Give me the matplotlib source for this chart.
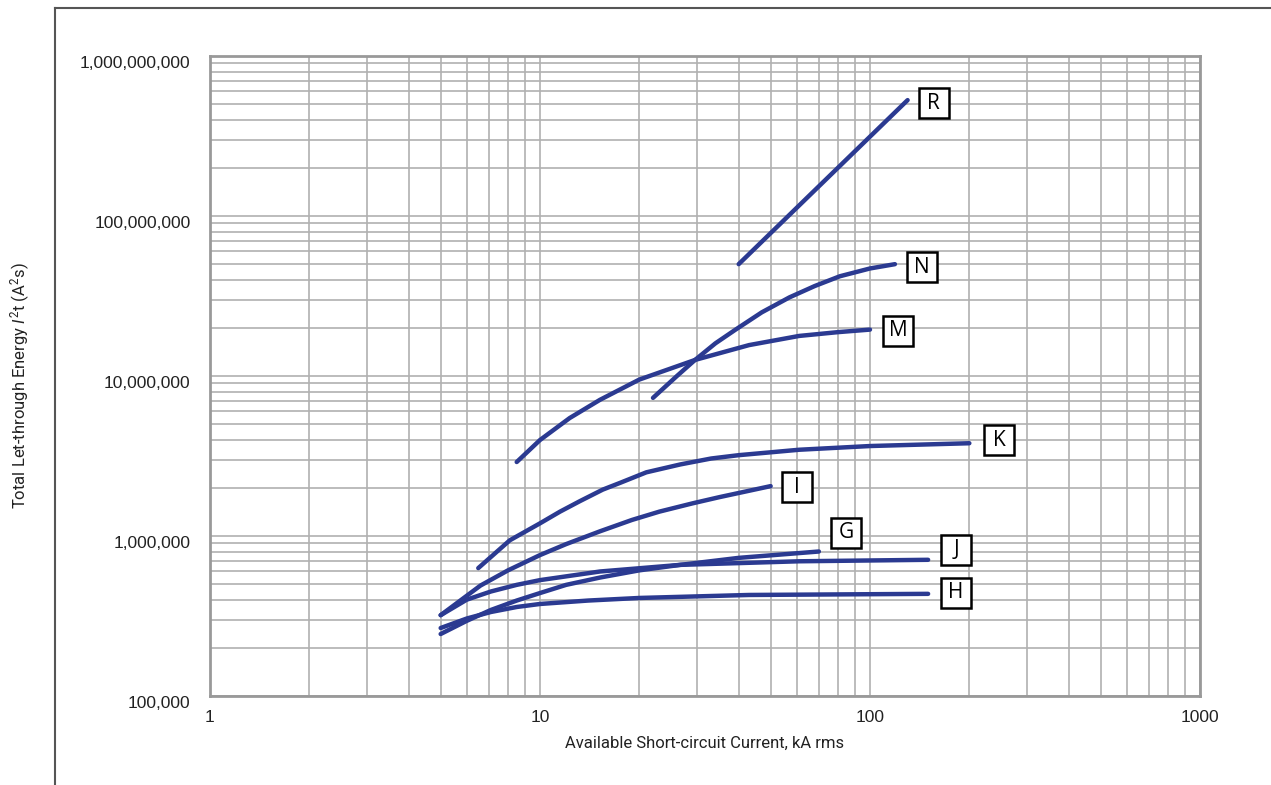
import numpy as np
import matplotlib
matplotlib.use('Agg')
import matplotlib.pyplot as plt
from matplotlib.lines import Line2D
from matplotlib.transforms import offset_copy
from matplotlib.ticker import FixedLocator, LogLocator, NullFormatter, FuncFormatter

# Curvas de energia I2t por tamanho de fusível (kA rms -> A2s)
r_x = [40, 130]
r_y = [5.0e7, 5.3e8]

n_x = [22, 26, 29.5, 34, 39, 47, 57, 68, 81, 100, 119]
n_y = [7.3e6, 1.0e7, 1.26e7, 1.6e7, 1.94e7, 2.5e7, 3.1e7, 3.65e7, 4.2e7, 4.7e7, 5.0e7]

m_x = [8.5, 10, 12.3, 15.2, 20, 29.5, 43, 61, 80, 100]
m_y = [2.9e6, 3.98e6, 5.46e6, 7.1e6, 9.5e6, 1.26e7, 1.56e7, 1.78e7, 1.88e7, 1.95e7]

k_x = [6.5, 8.1, 10, 11.5, 13.2, 15.5, 17.5, 21, 26.6, 33, 40, 61, 100, 200]
k_y = [6.3e5, 9.4e5, 1.2e6, 1.42e6, 1.65e6, 1.95e6, 2.15e6, 2.5e6, 2.8e6, 3.05e6, 3.2e6, 3.46e6, 3.65e6, 3.8e6]

i_x = [5, 6.6, 8, 10, 12, 15.2, 19, 23, 29, 35, 50]
i_y = [3.2e5, 4.9e5, 6.1e5, 7.6e5, 8.9e5, 1.07e6, 1.26e6, 1.42e6, 1.6e6, 1.75e6, 2.05e6]

g_x = [5, 6, 7.1, 8.5, 10, 12, 15.2, 20, 26.6, 40, 70]
g_y = [2.44e5, 2.95e5, 3.45e5, 3.95e5, 4.4e5, 4.95e5, 5.5e5, 6.1e5, 6.6e5, 7.3e5, 8.0e5]

j_x = [5, 6, 7.1, 8.5, 10, 15.2, 26.6, 61, 150]
j_y = [3.2e5, 4.0e5, 4.5e5, 4.95e5, 5.3e5, 6.0e5, 6.6e5, 6.95e5, 7.1e5]

h_x = [5, 6, 7.1, 8.5, 10, 14, 20, 43, 150]
h_y = [2.66e5, 3.05e5, 3.35e5, 3.6e5, 3.76e5, 3.95e5, 4.1e5, 4.28e5, 4.35e5]

curve_names = ['R', 'N', 'M', 'K', 'I', 'G', 'J', 'H']
curve_x = [r_x, n_x, m_x, k_x, i_x, g_x, j_x, h_x]
curve_y = [r_y, n_y, m_y, k_y, i_y, g_y, j_y, h_y]
# deslocamento do rótulo em pixels a partir do fim da curva (y positivo = para cima)
label_offsets = [(26, -3), (27, -3), (28, -1), (30, 3), (26, -1), (27, 19), (28, 10), (28, 1)]

x_ticks = [1, 10, 100, 1000]
y_ticks = [1e5, 1e6, 1e7, 1e8, 1e9]

line_color = '#2b3a91'
grid_color = '#b0b0b0'

plt.rcParams['font.family'] = ['Liberation Sans', 'DejaVu Sans']
plt.rcParams['mathtext.fontset'] = 'custom'
plt.rcParams['mathtext.rm'] = 'Roboto'
plt.rcParams['mathtext.it'] = 'Roboto:italic'

fig = plt.figure(figsize=(12.71, 7.85), dpi=100)
ax = fig.add_axes([210 / 1271, 1 - 696 / 785, 990 / 1271, 640 / 785])

for name, xs, ys, off in zip(curve_names, curve_x, curve_y, label_offsets):
    ax.plot(xs, ys, color=line_color, lw=3.2, solid_capstyle='round',
            solid_joinstyle='round', zorder=3)
    tr = offset_copy(ax.transData, fig=fig, x=off[0], y=off[1], units='dots')
    ax.plot([xs[-1]], [ys[-1]], marker='s', markersize=22, mfc='white', mec='black',
            mew=1.8, transform=tr, clip_on=False, zorder=4)
    ax.text(xs[-1], ys[-1], name, transform=tr, ha='center', va='center',
            fontsize=15, family='Open Sans', zorder=5)

ax.set_xscale('log')
ax.set_yscale('log')
ax.set_xlim(1, 1000)
ax.set_ylim(1e5, 1e9)

ax.xaxis.set_major_locator(FixedLocator(x_ticks))
ax.yaxis.set_major_locator(FixedLocator(y_ticks))
ax.xaxis.set_minor_locator(LogLocator(base=10, subs=np.arange(2, 10)))
ax.yaxis.set_minor_locator(LogLocator(base=10, subs=np.arange(2, 10)))
ax.xaxis.set_minor_formatter(NullFormatter())
ax.yaxis.set_minor_formatter(NullFormatter())
ax.xaxis.set_major_formatter(FuncFormatter(lambda v, p: f'{v:g}'))
ax.yaxis.set_major_formatter(FuncFormatter(lambda v, p: f'{int(round(v)):,}'))

ax.grid(True, which='both', color=grid_color, lw=1.2)
ax.tick_params(which='both', length=0)
ax.tick_params(axis='both', labelsize=12.5, labelcolor='#222222')
ax.tick_params(axis='x', pad=10)
ax.tick_params(axis='y', pad=14)
for lbl in ax.get_yticklabels():
    lbl.set_va('top')
for s in ax.spines.values():
    s.set_color('#999999')
    s.set_linewidth(2)

ax.set_xlabel('Available Short-circuit Current, kA rms', family='Roboto', fontsize=12,
              labelpad=8, color='#222222')
ax.set_ylabel(r'Total Let-through Energy $\mathit{I}^2$t (A$^2$s)', family='Roboto',
              fontsize=12, color='#222222')
ax.yaxis.set_label_coords(-178 / 990, 0.485)

# moldura parcial da figura (topo e lado esquerdo)
fig.add_artist(Line2D([55 / 1271, 1], [1 - 8 / 785, 1 - 8 / 785], color='#555555', lw=1.5))
fig.add_artist(Line2D([55 / 1271, 55 / 1271], [0, 1 - 8 / 785], color='#555555', lw=1.5))

fig.savefig('out.png', dpi=100)
